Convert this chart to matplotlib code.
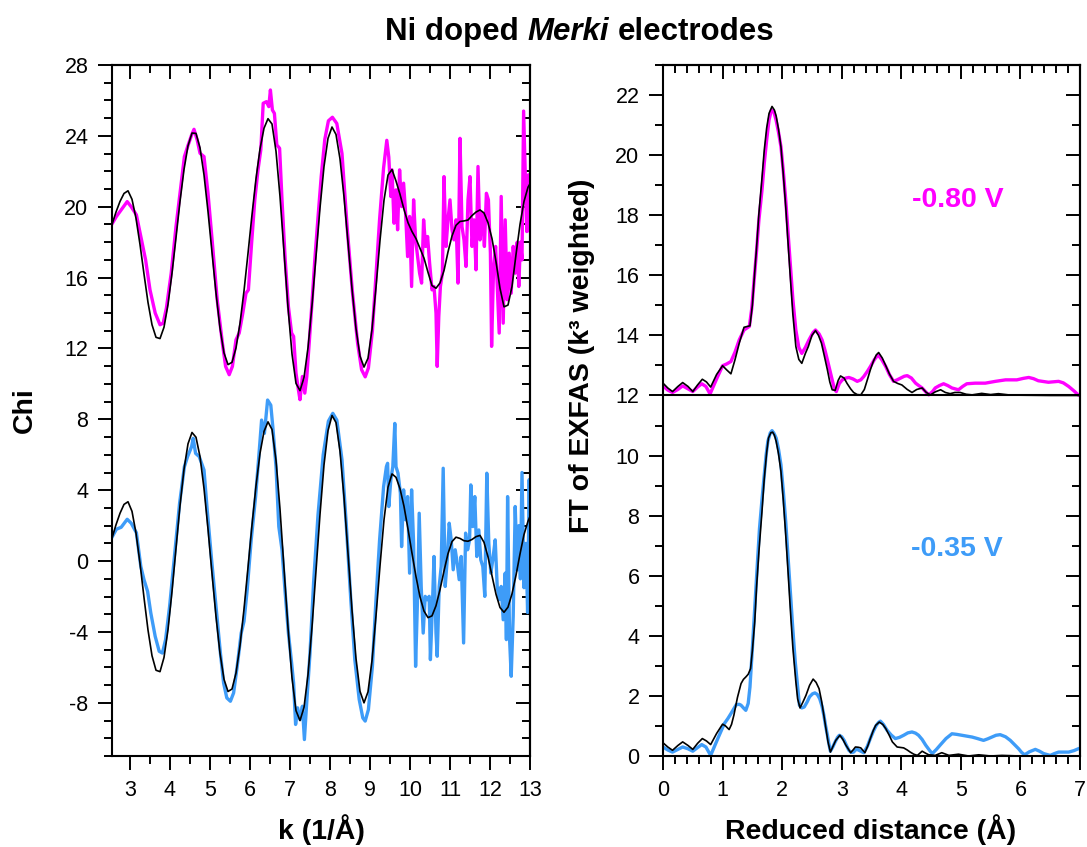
import numpy as np
import matplotlib
matplotlib.use("Agg")
import matplotlib.pyplot as plt
from matplotlib.ticker import MultipleLocator, NullFormatter

plt.rcParams['font.family'] = ['Liberation Sans', 'DejaVu Sans']
plt.rcParams['axes.unicode_minus'] = False

MAG = '#FF00FF'
BLUE = '#3E9CF8'

# ---- left panel: chi(k), data (coloured) and fit (black) ----
k_fit = np.round(2.55 + 0.1 * np.arange(106), 2)

fit_080 = [19.0, 19.7, 20.3, 20.75, 20.9, 20.42, 19.35, 17.87, 16.2, 14.6,
           13.34, 12.63, 12.56, 13.2, 14.48, 16.25, 18.26, 20.3, 22.1, 23.44,
           24.16, 24.14, 23.33, 21.8, 19.73, 17.42, 15.13, 13.15, 11.75, 11.09,
           11.22, 12.03, 13.42, 15.25, 17.37, 19.55, 21.58, 23.26, 24.43, 24.97,
           24.67, 23.13, 20.58, 17.46, 14.32, 11.69, 10.03, 9.62, 10.36, 12.04,
           14.43, 17.2, 19.94, 22.27, 23.86, 24.5, 24.08, 22.7, 20.56, 17.99,
           15.38, 13.12, 11.57, 10.95, 11.45, 13.08, 15.46, 18.1, 20.37, 21.79,
           22.1, 21.45, 20.7, 19.85, 19.1, 18.6, 18.2, 17.65, 17.1, 16.3,
           15.55, 15.4, 15.7, 16.4, 17.45, 18.35, 18.95, 19.17, 19.2, 19.25,
           19.5, 19.7, 19.82, 19.65, 19.1, 18.2, 16.9, 15.4, 14.35, 14.45,
           15.5, 17.3, 19.0, 20.3, 21.1, 21.5]

fit_035 = [1.3, 2.05, 2.7, 3.2, 3.35, 2.81, 1.58, -0.12, -2.06, -3.89,
           -5.34, -6.16, -6.24, -5.44, -3.87, -1.71, 0.73, 3.13, 5.18, 6.62,
           7.26, 6.99, 5.9, 4.1, 1.81, -0.7, -3.13, -5.2, -6.67, -7.36,
           -7.22, -6.32, -4.76, -2.71, -0.36, 2.04, 4.25, 6.08, 7.32, 7.86,
           7.43, 5.69, 2.93, -0.4, -3.75, -6.59, -8.44, -9.0, -8.26, -6.41,
           -3.72, -0.55, 2.64, 5.43, 7.36, 8.22, 7.82, 6.2, 3.61, 0.44,
           -2.77, -5.5, -7.35, -8.0, -7.38, -5.62, -3.09, -0.26, 2.33, 4.17,
           4.92, 4.73, 4.09, 3.09, 1.81, 0.44, -0.88, -2.02, -2.82, -3.19,
           -3.09, -2.52, -1.61, -0.56, 0.42, 1.1, 1.35, 1.28, 1.15, 1.12,
           1.22, 1.38, 1.45, 1.06, 0.24, -0.83, -1.87, -2.62, -2.89, -2.6,
           -1.85, -0.8, 0.4, 1.5, 2.25, 2.8]

k_080 = [2.55, 2.66, 2.78, 2.93, 3.03, 3.16, 3.27, 3.39, 3.50, 3.63,
         3.75, 3.83, 3.91, 4.03, 4.15, 4.26, 4.36, 4.44, 4.54, 4.60,
         4.68, 4.75, 4.85, 4.95, 5.06, 5.18, 5.31, 5.39, 5.48, 5.56,
         5.65, 5.73, 5.82, 5.90, 5.96, 6.04, 6.12, 6.20, 6.27, 6.33,
         6.41, 6.47, 6.51, 6.56, 6.61, 6.67, 6.74, 6.80, 6.88, 6.96,
         7.04, 7.09, 7.15, 7.21, 7.25, 7.31, 7.37, 7.42, 7.48, 7.55,
         7.62, 7.70, 7.78, 7.87, 7.96, 8.06, 8.17, 8.30, 8.43, 8.56,
         8.69, 8.79, 8.88, 8.96, 9.06, 9.14, 9.24, 9.34, 9.42, 9.47,
         9.52, 9.55, 9.60, 9.65, 9.69, 9.74, 9.79, 9.84, 9.89, 9.94,
         9.99, 10.04, 10.09, 10.14, 10.19, 10.24, 10.29, 10.34, 10.39, 10.44,
         10.49, 10.55, 10.60, 10.65, 10.68, 10.72, 10.76, 10.81, 10.85, 10.90,
         10.95, 11.0, 11.05, 11.10, 11.15, 11.20, 11.25, 11.30, 11.35, 11.40,
         11.45, 11.50, 11.55, 11.60, 11.65, 11.70, 11.75, 11.81, 11.86, 11.91,
         11.96, 12.01, 12.04, 12.09, 12.14, 12.19, 12.23, 12.28, 12.33, 12.38,
         12.43, 12.48, 12.53, 12.58, 12.63, 12.68, 12.72, 12.76, 12.80, 12.84,
         12.88, 12.92, 12.96, 13.0, 13.05]
chi_080 = [19.03, 19.45, 19.82, 20.29, 20.0, 19.54, 18.32, 17.0, 15.31, 14.0,
           13.34, 13.43, 14.28, 16.25, 18.88, 20.95, 22.83, 23.39, 24.05, 24.37,
           23.77, 23.02, 22.83, 20.76, 17.94, 14.75, 12.3, 10.99, 10.52, 10.99,
           12.49, 12.87, 14.0, 15.12, 15.31, 17.94, 20.39, 22.08, 23.21, 25.84,
           25.93, 25.65, 26.59, 25.46, 25.27, 23.49, 23.3, 20.39, 17.0, 14.37,
           12.87, 12.68, 10.61, 9.67, 9.11, 10.42, 9.48, 10.42, 12.3, 14.6,
           17.0, 19.4, 21.7, 23.8, 24.85, 25.05, 24.7, 23.0, 18.8, 15.2,
           12.3, 10.8, 10.4, 10.9, 13.0, 15.8, 19.3, 22.2, 23.75, 22.8,
           20.58, 22.08, 19.07, 20.95, 18.7, 22.08, 20.01, 21.33, 19.64, 17.19,
           19.45, 15.5, 20.39, 18.13, 17.19, 16.25, 15.69, 19.26, 17.76, 18.32,
           16.82, 15.31, 15.5, 14.0, 10.99, 13.81, 15.5, 16.25, 21.7, 17.76,
           19.26, 20.39, 18.7, 18.13, 19.26, 15.69, 23.86, 18.88, 18.13, 16.63,
           20.39, 21.7, 17.76, 19.26, 16.44, 22.27, 18.13, 19.64, 17.76, 20.76,
           20.39, 17.38, 12.12, 16.63, 17.76, 15.12, 12.87, 20.58, 13.43, 19.26,
           14.75, 17.38, 15.12, 17.76, 16.25, 18.0, 15.5, 18.0, 17.0, 25.4,
           22.0, 18.6, 21.8, 18.6, 20.5]

k_035 = [2.55, 2.66, 2.78, 2.93, 3.03, 3.16, 3.27, 3.35, 3.44, 3.52,
         3.63, 3.73, 3.81, 3.89, 3.99, 4.11, 4.24, 4.36, 4.44, 4.54,
         4.58, 4.64, 4.73, 4.85, 4.93, 5.04, 5.15, 5.26, 5.34, 5.42,
         5.51, 5.59, 5.68, 5.78, 5.85, 5.93, 6.03, 6.14, 6.22, 6.29,
         6.36, 6.44, 6.52, 6.57, 6.65, 6.72, 6.80, 6.88, 6.96, 7.04,
         7.09, 7.14, 7.19, 7.25, 7.31, 7.36, 7.42, 7.50, 7.59, 7.70,
         7.83, 7.96, 8.07, 8.17, 8.30, 8.41, 8.52, 8.62, 8.73, 8.82,
         8.88, 8.96, 9.06, 9.14, 9.24, 9.34, 9.41, 9.44, 9.47, 9.52,
         9.57, 9.62, 9.65, 9.70, 9.76, 9.79, 9.84, 9.89, 9.94, 9.99,
         10.04, 10.09, 10.14, 10.19, 10.23, 10.28, 10.33, 10.38, 10.43, 10.48,
         10.51, 10.56, 10.60, 10.65, 10.68, 10.73, 10.78, 10.83, 10.88, 10.93,
         10.98, 11.03, 11.08, 11.13, 11.18, 11.23, 11.28, 11.34, 11.39, 11.44,
         11.49, 11.52, 11.57, 11.62, 11.67, 11.72, 11.77, 11.82, 11.87, 11.92,
         11.97, 12.02, 12.07, 12.13, 12.18, 12.23, 12.28, 12.33, 12.38, 12.41,
         12.44, 12.49, 12.53, 12.58, 12.63, 12.68, 12.72, 12.76, 12.80, 12.85,
         12.90, 12.94, 12.98, 13.02, 13.06]
chi_035 = [1.35, 1.8, 1.91, 2.36, 2.14, 1.6, -0.3, -1.05, -1.71, -2.93,
           -4.25, -5.09, -5.19, -4.43, -2.56, 0.26, 3.27, 5.33, 5.9, 6.46,
           6.93, 6.08, 5.9, 5.14, 2.89, 0.07, -2.56, -5.19, -6.88, -7.72,
           -7.91, -7.44, -5.94, -4.06, -3.4, -1.62, 1.2, 3.64, 5.9, 7.96,
           7.21, 9.09, 8.8, 7.58, 5.33, 1.95, 0.64, -1.8, -4.06, -5.75,
           -6.88, -9.22, -8.28, -8.94, -8.19, -10.07, -7.9, -5.2, -1.2, 2.6,
           6.0, 7.9, 8.34, 7.96, 5.71, 1.95, -2.18, -5.56, -7.81, -8.85,
           -9.03, -8.38, -5.94, -2.56, 1.2, 4.2, 5.33, 5.52, 3.08, 4.58,
           5.33, 7.77, 5.33, 4.96, 3.83, 0.82, 4.02, 2.33, 3.64, -0.68,
           4.02, 1.01, -5.94, -1.99, 2.7, -1.43, -4.06, -1.99, -2.18, -1.99,
           -5.56, -2.56, 0.26, -4.06, -5.37, -1.43, -0.3, 5.24, -1.43, 0.07,
           2.14, 1.2, -0.49, 0.64, -0.11, -1.05, 0.26, -4.62, 1.58, 0.64,
           1.2, 4.3, 1.95, 3.64, 0.26, 1.76, 0.07, -0.3, -1.99, 4.96,
           1.01, -0.68, 0.07, 1.2, -1.43, -2.18, -1.43, -3.31, -0.68, -4.43,
           3.64, -4.43, -6.5, -3.12, 3.08, -0.5, 2.0, -1.0, 5.0, -1.5,
           1.0, -2.9, 4.6, -2.0, 1.0]

# ---- right panel: |FT| vs reduced distance; -0.80 V is shifted up by 12 ----
ft_shift = 12
r_080 = [0.0, 0.08, 0.16, 0.25, 0.33, 0.42, 0.5, 0.58, 0.65, 0.72,
         0.79, 0.9, 1.0, 1.07, 1.14, 1.21, 1.28, 1.36, 1.45, 1.49,
         1.53, 1.57, 1.61, 1.66, 1.70, 1.74, 1.78, 1.82, 1.86, 1.90,
         1.94, 1.98, 2.02, 2.06, 2.10, 2.14, 2.18, 2.23, 2.28, 2.33,
         2.39, 2.45, 2.52, 2.56, 2.62, 2.67, 2.72, 2.76, 2.80, 2.84,
         2.88, 2.91, 2.96, 3.01, 3.07, 3.12, 3.19, 3.26, 3.32, 3.37,
         3.43, 3.48, 3.55, 3.61, 3.67, 3.74, 3.80, 3.87, 3.93, 3.99,
         4.05, 4.10, 4.17, 4.24, 4.30, 4.35, 4.41, 4.46, 4.52, 4.57,
         4.64, 4.71, 4.78, 4.85, 4.96, 5.03, 5.1, 5.24, 5.41, 5.58,
         5.75, 5.94, 6.05, 6.14, 6.22, 6.3, 6.47, 6.64, 6.72, 6.81,
         6.9, 6.97, 7.0]
ft_080 = [0.32, 0.18, 0.10, 0.20, 0.32, 0.22, 0.13, 0.28, 0.39, 0.30,
          0.05, 0.55, 0.99, 1.05, 1.13, 1.45, 1.85, 2.18, 2.30, 2.90,
          3.85, 4.80, 5.84, 6.80, 7.73, 8.50, 9.17, 9.50, 9.45, 9.15,
          8.75, 8.28, 7.45, 6.51, 5.40, 4.29, 3.20, 2.18, 1.60, 1.40,
          1.60, 1.85, 2.10, 2.18, 2.05, 1.85, 1.50, 1.18, 0.85, 0.52,
          0.20, 0.13, 0.40, 0.52, 0.58, 0.60, 0.55, 0.47, 0.52, 0.63,
          0.80, 0.96, 1.20, 1.35, 1.20, 0.96, 0.70, 0.47, 0.52, 0.58,
          0.64, 0.66, 0.58, 0.41, 0.32, 0.25, 0.12, 0.02, 0.12, 0.25,
          0.33, 0.39, 0.33, 0.25, 0.19, 0.30, 0.39, 0.41, 0.41, 0.47,
          0.52, 0.52, 0.57, 0.60, 0.56, 0.49, 0.44, 0.47, 0.42, 0.30,
          0.15, 0.02, 0.0]

r_080_fit = [0.0, 0.08, 0.16, 0.25, 0.33, 0.42, 0.5, 0.58, 0.66, 0.73,
             0.8, 0.9, 1.0, 1.07, 1.14, 1.21, 1.28, 1.36, 1.46, 1.50,
             1.53, 1.57, 1.61, 1.66, 1.70, 1.74, 1.78, 1.83, 1.87, 1.90,
             1.94, 1.98, 2.02, 2.06, 2.10, 2.14, 2.18, 2.23, 2.28, 2.33,
             2.39, 2.44, 2.50, 2.56, 2.61, 2.66, 2.71, 2.76, 2.80, 2.84,
             2.89, 2.94, 2.98, 3.04, 3.09, 3.15, 3.20, 3.26, 3.32, 3.38,
             3.43, 3.48, 3.53, 3.58, 3.62, 3.68, 3.74, 3.80, 3.87, 3.94,
             4.01, 4.1, 4.18, 4.26, 4.35, 4.42, 4.49, 4.57, 4.66, 4.74,
             4.82, 4.9, 4.99, 5.09, 5.19, 5.35, 5.5, 5.63, 5.8, 6.0,
             6.5, 7.0]
ft_080_fit = [0.41, 0.25, 0.13, 0.30, 0.43, 0.30, 0.13, 0.35, 0.54, 0.45,
              0.28, 0.70, 0.99, 0.85, 0.72, 1.20, 1.74, 2.27, 2.32, 3.00,
              3.85, 4.90, 6.06, 7.20, 8.17, 8.90, 9.39, 9.62, 9.50, 9.30,
              8.85, 8.28, 7.35, 6.29, 5.05, 3.85, 2.70, 1.63, 1.20, 1.07,
              1.40, 1.63, 2.00, 2.16, 2.00, 1.74, 1.30, 0.85, 0.45, 0.19,
              0.17, 0.50, 0.65, 0.58, 0.40, 0.22, 0.10, 0.03, 0.02, 0.20,
              0.52, 0.85, 1.13, 1.35, 1.43, 1.25, 0.99, 0.72, 0.47, 0.40,
              0.35, 0.20, 0.10, 0.20, 0.25, 0.10, 0.02, 0.12, 0.19, 0.10,
              0.06, 0.10, 0.10, 0.04, 0.02, 0.07, 0.03, 0.06, 0.02, 0.01,
              0.0, 0.0]

r_035 = [0.0, 0.08, 0.16, 0.25, 0.33, 0.42, 0.5, 0.58, 0.65, 0.72,
         0.8, 0.86, 0.92, 0.98, 1.03, 1.09, 1.14, 1.19, 1.23, 1.28,
         1.31, 1.36, 1.39, 1.43, 1.46, 1.50, 1.53, 1.56, 1.59, 1.62,
         1.66, 1.70, 1.73, 1.76, 1.80, 1.83, 1.86, 1.90, 1.94, 1.98,
         2.02, 2.06, 2.10, 2.14, 2.18, 2.22, 2.26, 2.29, 2.33, 2.37,
         2.42, 2.46, 2.51, 2.55, 2.59, 2.63, 2.67, 2.70, 2.73, 2.76,
         2.79, 2.81, 2.85, 2.89, 2.93, 2.96, 3.0, 3.04, 3.08, 3.12,
         3.16, 3.2, 3.23, 3.26, 3.31, 3.37, 3.43, 3.48, 3.53, 3.58,
         3.62, 3.65, 3.7, 3.76, 3.83, 3.9, 3.97, 4.04, 4.11, 4.18,
         4.24, 4.29, 4.35, 4.41, 4.47, 4.52, 4.59, 4.66, 4.75, 4.85,
         4.93, 5.02, 5.1, 5.19, 5.28, 5.38, 5.45, 5.52, 5.59, 5.66,
         5.75, 5.83, 5.9, 5.97, 6.02, 6.07, 6.15, 6.25, 6.32, 6.39,
         6.5, 6.57, 6.64, 6.72, 6.81, 6.9, 6.97, 7.0]
ft_035 = [0.3, 0.2, 0.13, 0.22, 0.3, 0.24, 0.16, 0.28, 0.38, 0.3,
          0.02, 0.3, 0.58, 0.85, 1.08, 1.25, 1.41, 1.58, 1.71, 1.72,
          1.69, 1.58, 1.52, 1.75, 2.3, 3.58, 4.6, 5.58, 6.6, 7.58,
          8.5, 9.36, 10.0, 10.47, 10.75, 10.83, 10.75, 10.58, 10.2, 9.69,
          8.8, 7.8, 6.6, 5.36, 4.2, 3.13, 2.3, 1.69, 1.6, 1.63,
          1.8, 1.97, 2.07, 2.1, 2.05, 1.91, 1.65, 1.36, 1.0, 0.69,
          0.35, 0.16, 0.3, 0.47, 0.62, 0.69, 0.64, 0.52, 0.35, 0.19,
          0.12, 0.13, 0.2, 0.22, 0.17, 0.11, 0.32, 0.58, 0.82, 1.02,
          1.12, 1.16, 1.05, 0.86, 0.7, 0.58, 0.62, 0.69, 0.77, 0.8,
          0.76, 0.69, 0.55, 0.36, 0.2, 0.08, 0.22, 0.38, 0.58, 0.74,
          0.72, 0.69, 0.66, 0.63, 0.58, 0.52, 0.57, 0.63, 0.69, 0.71,
          0.64, 0.52, 0.38, 0.24, 0.12, 0.04, 0.14, 0.22, 0.16, 0.08,
          0.02, 0.08, 0.13, 0.13, 0.13, 0.18, 0.24, 0.26]

r_035_fit = [0.0, 0.08, 0.16, 0.25, 0.33, 0.42, 0.5, 0.58, 0.66, 0.73,
             0.8, 0.9, 1.0, 1.05, 1.11, 1.15, 1.19, 1.25, 1.31, 1.35,
             1.39, 1.43, 1.47, 1.50, 1.54, 1.57, 1.61, 1.66, 1.70, 1.74,
             1.77, 1.81, 1.84, 1.87, 1.90, 1.94, 1.98, 2.02, 2.06, 2.10,
             2.14, 2.18, 2.23, 2.26, 2.30, 2.35, 2.40, 2.46, 2.52, 2.57,
             2.62, 2.66, 2.70, 2.74, 2.77, 2.81, 2.86, 2.9, 2.97, 3.02,
             3.07, 3.15, 3.19, 3.23, 3.28, 3.32, 3.39, 3.44, 3.48, 3.53,
             3.57, 3.63, 3.69, 3.74, 3.8, 3.85, 3.93, 4.04, 4.1, 4.15,
             4.21, 4.27, 4.35, 4.42, 4.46, 4.57, 4.68, 4.8, 4.96, 5.13,
             5.3, 5.5, 5.69, 6.0, 7.0]
ft_035_fit = [0.44, 0.3, 0.19, 0.35, 0.47, 0.35, 0.22, 0.42, 0.58, 0.5,
              0.38, 0.75, 1.06, 1.0, 0.88, 1.05, 1.36, 1.95, 2.41, 2.55,
              2.63, 2.72, 2.91, 3.5, 4.47, 5.6, 6.8, 8.1, 9.24, 10.1,
              10.58, 10.76, 10.78, 10.68, 10.47, 10.05, 9.47, 8.5, 7.36, 6.1,
              4.8, 3.6, 2.47, 1.9, 1.6, 1.8, 2.02, 2.35, 2.56, 2.45,
              2.24, 1.85, 1.36, 0.85, 0.47, 0.13, 0.35, 0.52, 0.69, 0.55,
              0.36, 0.11, 0.2, 0.3, 0.29, 0.27, 0.11, 0.35, 0.58, 0.85,
              1.02, 1.13, 1.05, 0.91, 0.68, 0.47, 0.3, 0.27, 0.2, 0.13,
              0.06, 0.02, 0.16, 0.08, 0.04, 0.02, 0.11, 0.02, 0.06, 0.0,
              0.04, 0.0, 0.02, 0.0, 0.0]

W, H = 1087, 847


def frame(ax, xmaj, xmin, ymaj, ymin):
    # Origin-like frame: ticks out on left/bottom, in on top/right
    ax.xaxis.set_major_locator(MultipleLocator(xmaj))
    ax.xaxis.set_minor_locator(MultipleLocator(xmin))
    ax.yaxis.set_major_locator(MultipleLocator(ymaj))
    ax.yaxis.set_minor_locator(MultipleLocator(ymin))
    ax.tick_params(which='major', direction='out', length=10, width=1.4,
                   labelsize=15.5, pad=7)
    ax.tick_params(which='minor', direction='out', length=5.5, width=1.4)
    for sp in ax.spines.values():
        sp.set_linewidth(1.5)
    top = ax.secondary_xaxis('top')
    top.xaxis.set_major_locator(MultipleLocator(xmaj))
    top.xaxis.set_minor_locator(MultipleLocator(xmin))
    top.xaxis.set_major_formatter(NullFormatter())
    right = ax.secondary_yaxis('right')
    right.yaxis.set_major_locator(MultipleLocator(ymaj))
    right.yaxis.set_minor_locator(MultipleLocator(ymin))
    right.yaxis.set_major_formatter(NullFormatter())
    for sec in (top, right):
        sec.tick_params(which='major', direction='in', length=10, width=1.4)
        sec.tick_params(which='minor', direction='in', length=5.5, width=1.4)
        for sp in sec.spines.values():
            sp.set_linewidth(1.5)


fig = plt.figure(figsize=(W / 100, H / 100), dpi=100)
ax1 = fig.add_axes([112 / W, 1 - 756 / H, 418 / W, 691 / H])
ax2 = fig.add_axes([663 / W, 1 - 756 / H, 417 / W, 691 / H])

ax1.plot(k_080, chi_080, color=MAG, lw=2.4)
ax1.plot(k_035, chi_035, color=BLUE, lw=2.4)
ax1.plot(k_fit, fit_080, color='black', lw=1.2)
ax1.plot(k_fit, fit_035, color='black', lw=1.2)
ax1.set_xlim(2.55, 13)
ax1.set_ylim(-11, 28)
frame(ax1, 1, 0.5, 4, 1)

ax2.plot(r_080, np.array(ft_080) + ft_shift, color=MAG, lw=2.4)
ax2.plot(r_035, ft_035, color=BLUE, lw=2.4)
ax2.plot(r_080_fit, np.array(ft_080_fit) + ft_shift, color='black', lw=1.2)
ax2.plot(r_035_fit, ft_035_fit, color='black', lw=1.2)
ax2.axhline(ft_shift, color='black', lw=1.5)
ax2.set_xlim(0, 7)
ax2.set_ylim(0, 23)
frame(ax2, 1, 0.2, 2, 1)

ax2.text(4.95, 18.5, '-0.80 V', color=MAG, fontsize=20.5, fontweight='bold',
         ha='center', va='center')
ax2.text(4.94, 6.9, '-0.35 V', color=BLUE, fontsize=20.5, fontweight='bold',
         ha='center', va='center')

lab = dict(fontsize=20.5, fontweight='bold')
fig.text(321 / W, 1 - 839 / H, 'k (1/Å)', ha='center', va='baseline', **lab)
fig.text(871 / W, 1 - 839 / H, 'Reduced distance (Å)', ha='center', va='baseline', **lab)
fig.text(25 / W, 1 - 410 / H, 'Chi', rotation=90, ha='center', va='center', **lab)
fig.text(582 / W, 1 - 356 / H, 'FT of EXFAS (k³ weighted)', rotation=90,
         ha='center', va='center', **lab)

# title with italic word, laid out piece by piece
fig.canvas.draw()
renderer = fig.canvas.get_renderer()
parts = [('Ni doped', 'normal'), ('Merki', 'italic'), ('electrodes', 'normal')]
tkw = dict(fontsize=22.5, fontweight='bold', va='baseline')
pieces = [fig.text(0, 0, s, fontstyle=st, **tkw) for s, st in parts]
widths = [p.get_window_extent(renderer).width for p in pieces]
a = fig.text(0, 0, 'N N', **tkw)
b = fig.text(0, 0, 'NN', **tkw)
space = a.get_window_extent(renderer).width - b.get_window_extent(renderer).width
a.remove()
b.remove()
x = 580 - (sum(widths) + 2 * space) / 2
for p, w in zip(pieces, widths):
    p.set_position((x / W, 1 - 40 / H))
    x += w + space

fig.savefig('out.png', dpi=100)
